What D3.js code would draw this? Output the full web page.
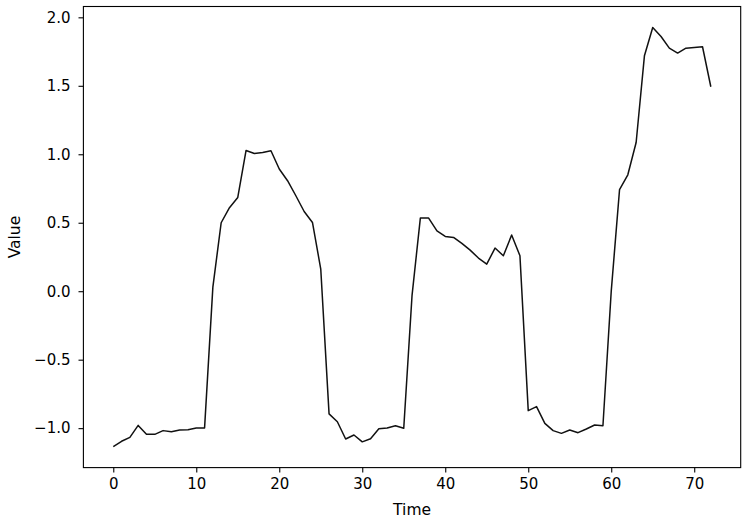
<!DOCTYPE html>
<html><head><meta charset="utf-8">
<script src="https://cdn.jsdelivr.net/npm/d3@7"></script>
<style>body{margin:0;background:#fff}svg{display:block}text{font-family:"DejaVu Sans",sans-serif;fill:#000}</style>
</head><body><svg id="c" width="745" height="520"></svg>
<script>
const times = d3.range(0, 73);
const values = [-1.135,-1.096,-1.067,-0.98,-1.045,-1.045,-1.018,-1.026,-1.013,-1.011,
 -0.999,-0.999,0.03,0.50,0.61,0.685,1.028,1.006,1.013,1.026,
 0.892,0.807,0.697,0.582,0.502,0.162,-0.896,-0.953,-1.079,-1.05,
 -1.10,-1.077,-1.004,-0.999,-0.982,-1.001,-0.03,0.534,0.534,0.44,
 0.40,0.393,0.349,0.30,0.242,0.198,0.315,0.259,0.41,0.259,
 -0.872,-0.843,-0.965,-1.018,-1.038,-1.013,-1.033,-1.006,-0.977,-0.982,
 0.0,0.741,0.85,1.086,1.719,1.926,1.86,1.775,1.739,1.775,
 1.78,1.785,1.493];
const xTicks = [0,10,20,30,40,50,60,70];
const yTicks = [-1.0,-0.5,0.0,0.5,1.0,1.5,2.0];
const xLabel = "Time", yLabel = "Value";

const L = 83.4, R = 740.7, T = 6.5, B = 467.6;
const FS = "15px";
const svg = d3.select("#c");
const xmin = d3.min(times), xmax = d3.max(times), xm = (xmax-xmin)*0.05;
const ymin = d3.min(values), ymax = d3.max(values), ym = (ymax-ymin)*0.05;
const x = d3.scaleLinear().domain([xmin-xm, xmax+xm]).range([L, R]);
const y = d3.scaleLinear().domain([ymin-ym, ymax+ym]).range([B, T]);

svg.append("path").datum(values)
  .attr("fill","none").attr("stroke","#111").attr("stroke-width",1.5)
  .attr("stroke-linejoin","round")
  .attr("d", d3.line().x((d,i)=>x(times[i])).y(d=>y(d)));

svg.append("rect").attr("x",L).attr("y",T).attr("width",R-L).attr("height",B-T)
  .attr("fill","none").attr("stroke","#000").attr("stroke-width",1.1);

const fmtY = d => (d<0?"\u2212":"") + Math.abs(d).toFixed(1);
const xa = svg.append("g").attr("transform",`translate(0,${B})`)
  .call(d3.axisBottom(x).tickValues(xTicks).tickSize(4.9).tickPadding(5.5).tickFormat(d3.format("d")));
const ya = svg.append("g").attr("transform",`translate(${L},0)`)
  .call(d3.axisLeft(y).tickValues(yTicks).tickSize(4.9).tickPadding(8).tickFormat(fmtY));
[xa,ya].forEach(g=>{
  g.select(".domain").remove();
  g.selectAll("line").attr("stroke","#000").attr("stroke-width",1.1);
  g.selectAll("text").attr("font-size",FS).attr("font-family","DejaVu Sans").attr("fill","#000");
});

svg.append("text").attr("x",(L+R)/2).attr("y",515).attr("text-anchor","middle")
  .attr("font-size","15.5px").text(xLabel);
svg.append("text").attr("transform",`translate(20,${(T+B)/2}) rotate(-90)`).attr("text-anchor","middle")
  .attr("font-size","15.5px").text(yLabel);
</script></body></html>
